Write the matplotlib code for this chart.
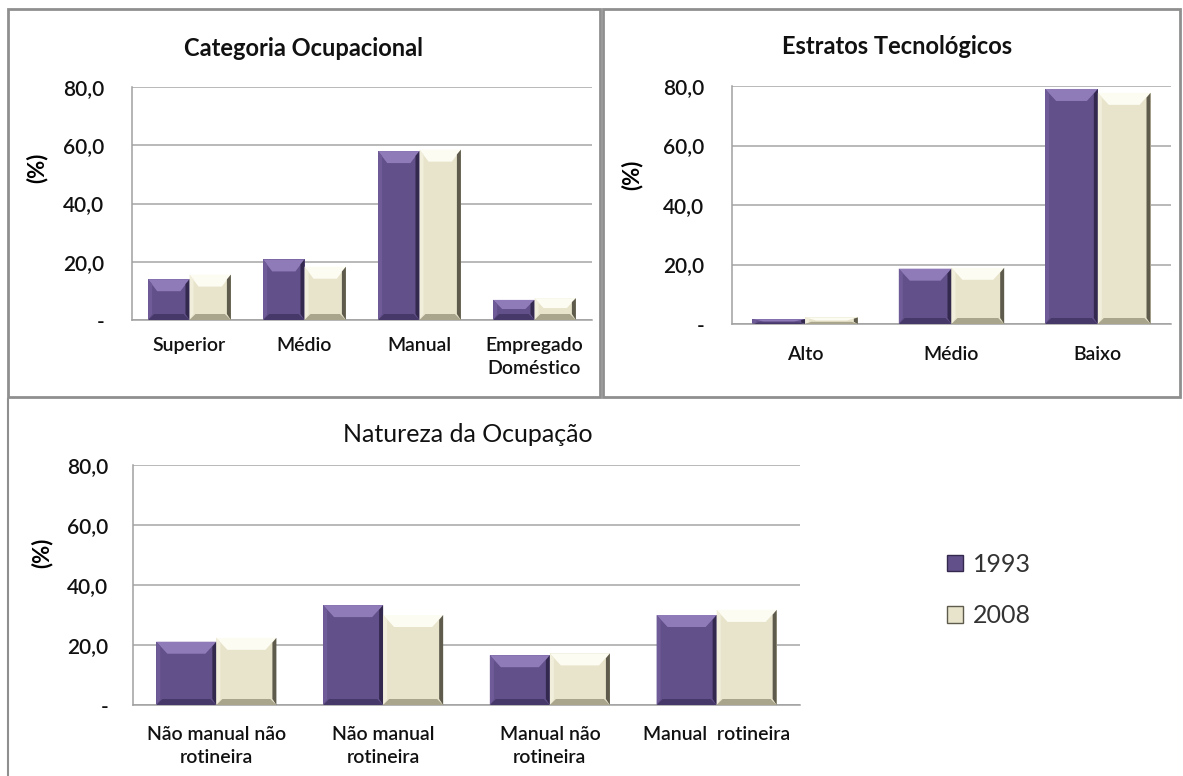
import matplotlib.pyplot as plt
from matplotlib.patches import Polygon, Rectangle
from matplotlib.lines import Line2D

plt.rcParams['font.family'] = ['Lato', 'DejaVu Sans']

# data
years = ['1993', '2008']

cat_ocup = ['Superior', 'Médio', 'Manual', 'Empregado\nDoméstico']
cat_1993 = [14.0, 20.8, 58.0, 6.9]
cat_2008 = [15.6, 18.3, 58.5, 7.5]

estratos = ['Alto', 'Médio', 'Baixo']
est_1993 = [1.6, 18.6, 79.0]
est_2008 = [2.2, 18.9, 77.7]

natureza = ['Não manual não\nrotineira', 'Não manual\nrotineira', 'Manual não\nrotineira', 'Manual  rotineira']
nat_1993 = [21.1, 33.3, 16.6, 30.0]
nat_2008 = [22.4, 30.0, 17.2, 31.7]

yticks = [0, 20, 40, 60, 80]
ytick_labels = ['-', '20,0', '40,0', '60,0', '80,0']

# face, top, left, right, bottom
purple = ['#62508a', '#8f7bb8', '#6e5b98', '#33284d', '#463868']
cream = ['#e8e4cb', '#fdfcf3', '#f1eedc', '#5e5b4c', '#a9a58c']

W, H = 1183, 776
fig = plt.figure(figsize=(W / 100, H / 100), dpi=100)


def px_axes(left, top, right, bottom):
    return fig.add_axes([left / W, 1 - bottom / H, (right - left) / W, (bottom - top) / H])


def bevel(ax, bars, cols):
    # fake the Excel bevel look: light top, thin shaded sides, darker bottom
    face, top, lft, rgt, bot = cols
    inv = ax.transData.inverted()
    for b in bars:
        x0, y0 = b.get_x(), b.get_y()
        x1, y1 = x0 + b.get_width(), y0 + b.get_height()
        (X0, Y0) = ax.transData.transform((x0, y0))
        (X1, Y1) = ax.transData.transform((x1, y1))
        hpx = Y1 - Y0
        wpx = X1 - X0
        tx = min(0.22 * wpx, 11)
        ty = min(12, hpx / 2.2)
        sx = min(4, wpx / 8)
        by = min(6, hpx / 3.0)
        polys = [
            ([(X0, Y1), (X1, Y1), (X1 - tx, Y1 - ty), (X0 + tx, Y1 - ty)], top),
            ([(X0, Y0), (X0, Y1), (X0 + sx, Y1 - ty * 0.4), (X0 + sx, Y0 + by)], lft),
            ([(X1, Y0), (X1, Y1), (X1 - sx, Y1 - ty * 0.4), (X1 - sx, Y0 + by)], rgt),
            ([(X0, Y0), (X1, Y0), (X1 - sx - 2, Y0 + by), (X0 + sx + 2, Y0 + by)], bot),
        ]
        for pts, c in polys:
            dpts = inv.transform(pts)
            ax.add_patch(Polygon(dpts, closed=True, facecolor=c, edgecolor='none', zorder=3))


def panel(ax, cats, v1, v2, lfont, tickfont):
    n = len(cats)
    xs = list(range(n))
    w = 0.36
    ax.set_xlim(-0.5, n - 0.5)
    ax.set_ylim(0, 80)
    b1 = ax.bar([x - w / 2 for x in xs], v1, width=w, color=purple[0], zorder=2, label=years[0])
    b2 = ax.bar([x + w / 2 for x in xs], v2, width=w, color=cream[0], zorder=2, label=years[1])
    bevel(ax, b1, purple)
    bevel(ax, b2, cream)
    ax.set_yticks(yticks)
    ax.set_yticklabels(ytick_labels, fontsize=tickfont, color='#111111', fontweight='semibold')
    ax.set_xticks(xs)
    ax.set_xticklabels(cats, fontsize=lfont, color='#111111', linespacing=1.45, fontweight='semibold')
    ax.tick_params(axis='both', length=0)
    ax.tick_params(axis='y', pad=20)
    ax.tick_params(axis='x', pad=12)
    ax.grid(axis='y', color='#a6a6a6', lw=1.1, zorder=0)
    ax.set_axisbelow(True)
    for s in ['top', 'right']:
        ax.spines[s].set_visible(False)
    for s in ['left', 'bottom']:
        ax.spines[s].set_color('#a0a0a0')
        ax.spines[s].set_linewidth(1.1)
    ax.set_ylabel('(%)', fontsize=16, fontweight='bold')
    return b1, b2


ax1 = px_axes(132, 87, 592, 320)
panel(ax1, cat_ocup, cat_1993, cat_2008, 14, 15)
ax1.yaxis.set_label_coords(-0.183, 0.652)
fig.text(304 / W, 1 - 49 / H, 'Categoria Ocupacional', ha='center', va='center',
         fontsize=17, fontweight='bold', color='#111111')

ax2 = px_axes(732, 86, 1171, 324)
panel(ax2, estratos, est_1993, est_2008, 14, 15)
ax2.tick_params(axis='x', pad=16)
ax2.yaxis.set_label_coords(-0.203, 0.626)
fig.text(897 / W, 1 - 47 / H, 'Estratos Tecnológicos', ha='center', va='center',
         fontsize=17, fontweight='bold', color='#111111')

ax3 = px_axes(133, 465, 800, 705)
panel(ax3, natureza, nat_1993, nat_2008, 14, 15)
ax3.tick_params(axis='x', pad=15)
ax3.tick_params(axis='y', pad=18)
ax3.yaxis.set_label_coords(-0.12, 0.633)
fig.text(468 / W, 1 - 434 / H, 'Natureza da Ocupação', ha='center', va='center',
         fontsize=18, color='#111111')

handles = [Rectangle((0, 0), 1, 1, facecolor=purple[0], edgecolor=purple[3]),
           Rectangle((0, 0), 1, 1, facecolor=cream[0], edgecolor=cream[3])]
fig.legend(handles, years, loc='center left', bbox_to_anchor=(924 / W, 1 - 590 / H),
           frameon=False, fontsize=18, handlelength=0.65, handleheight=0.65,
           handletextpad=0.4, labelspacing=1.15, labelcolor='#333333')

# panel frames
frame_col = '#8f8f8f'
fig.add_artist(Rectangle((8 / W, 1 - 397 / H), 592 / W, 388 / H, transform=fig.transFigure,
                         fill=False, edgecolor=frame_col, lw=2))
fig.add_artist(Rectangle((603 / W, 1 - 397 / H), 577 / W, 388 / H, transform=fig.transFigure,
                         fill=False, edgecolor=frame_col, lw=2))
fig.add_artist(Line2D([8 / W, 8 / W], [0, 1 - 399 / H], transform=fig.transFigure,
                      color=frame_col, lw=1.5))

fig.savefig('out.png', dpi=100)
